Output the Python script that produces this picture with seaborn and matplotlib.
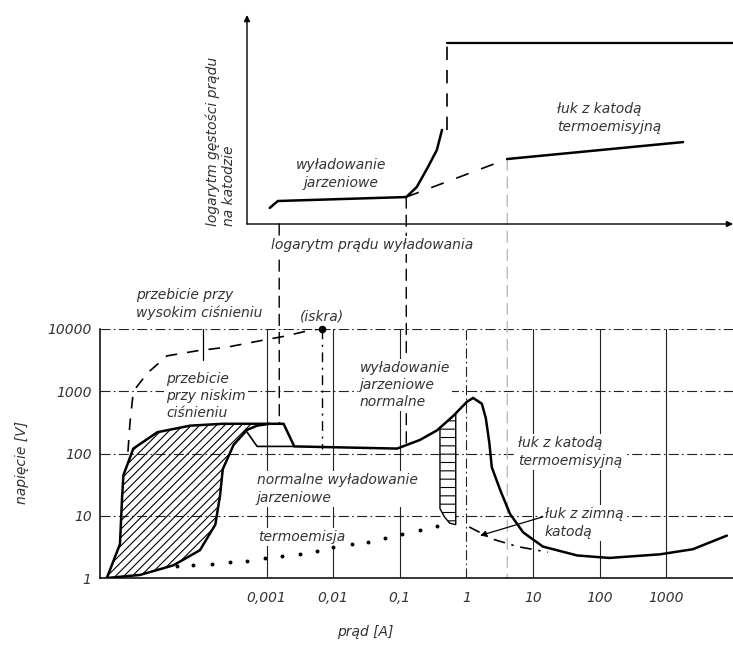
import matplotlib
matplotlib.use("Agg")
import matplotlib.pyplot as plt
import seaborn as sns
from matplotlib.patches import ConnectionPatch

# ---------------- data ----------------
# main chart: voltage [V] against discharge current [A]
v_ticks = [1, 10, 100, 1000, 10000]
v_tick_labels = ["1", "10", "100", "1000", "10000"]
i_ticks = [1e-3, 1e-2, 1e-1, 1, 10, 100, 1000]
i_tick_labels = ["0,001", "0,01", "0,1", "1", "10", "100", "1000"]
i_limits = [3.16e-6, 1e4]
v_limits = [1, 1e4]

# hatched dark-discharge region
dark_left_i = [4.0e-6, 6.3e-6, 6.8e-6, 7.1e-6, 1.0e-5, 2.3e-5, 7.1e-5, 2.2e-4, 1.6e-3]
dark_left_v = [1.0, 3.5, 21, 45, 120, 220, 280, 300, 300]
dark_right_i = [4.0e-6, 1.26e-5, 4.0e-5, 1.0e-4, 1.7e-4, 2.0e-4, 2.2e-4, 3.2e-4, 5.1e-4, 7.2e-4, 1.1e-3]
dark_right_v = [1.0, 1.12, 1.6, 2.8, 7.2, 21, 56, 138, 240, 280, 300]

# glow discharge -> abnormal glow -> arc characteristic
glow_i = [1.6e-3, 1.8e-3, 2.6e-3, 0.091, 0.20, 0.36, 0.63, 1.02, 1.26, 1.7, 1.95, 2.2, 2.4,
          3.2, 4.5, 7.1, 14, 46, 140, 800, 2500, 8100]
glow_v = [300, 300, 130, 120, 165, 235, 400, 680, 780, 630, 370, 150, 60,
          26, 10.7, 5.4, 3.2, 2.3, 2.1, 2.4, 2.9, 4.8]
branch_i = [5.1e-4, 7.2e-4, 2.6e-3]
branch_v = [220, 130, 130]

# hatched glow-to-arc transition strip
strip_i = [0.40, 0.40, 0.47, 0.56, 0.69, 0.69, 0.63]
strip_v = [255, 13, 9.5, 7.6, 7.2, 440, 400]

# thermionic emission (dotted)
thermo_i = [4.6e-5, 7.9e-5, 1.5e-4, 2.8e-4, 5.1e-4, 9.5e-4, 1.7e-3, 3.2e-3, 5.8e-3, 0.010,
            0.019, 0.033, 0.060, 0.107, 0.20, 0.36]
thermo_v = [1.58, 1.62, 1.70, 1.78, 1.86, 2.09, 2.29, 2.45, 2.69, 3.16,
            3.55, 3.72, 4.37, 5.13, 5.89, 6.92]

# cold cathode arc (dash-dot)
cold_i = [1.1, 2.5, 5.8, 16.6]
cold_v = [6.6, 4.2, 3.2, 2.6]

# breakdown (dashed) ending at the spark
breakdown_i = [8.3e-6, 8.9e-6, 1.0e-5, 1.62e-5, 3.2e-5, 9.1e-5, 2.6e-4, 6.3e-4, 1.78e-3, 5.0e-3, 6.8e-3]
breakdown_v = [107, 310, 1000, 1950, 3700, 4470, 5130, 6170, 7590, 9770, 10000]
spark_i = [6.8e-3]
spark_v = [10000]
spark_drop_v = [10000, 120]
hp_leader_i = [1.11e-4, 1.11e-4]
hp_leader_v = [10000, 3160]
cold_arrow_from = (14, 9.6)
cold_arrow_to = (1.6, 4.8)

# top inset: log current density on the cathode (arbitrary units) vs current [A]
top_i_limits = [5.1e-4, 1e4]
top_glow_i = [1.12e-3, 1.48e-3, 0.125, 0.18, 0.265, 0.36, 0.43]
top_glow_y = [0.077, 0.110, 0.129, 0.177, 0.273, 0.354, 0.450]
top_trans_i = [0.125, 4.1]
top_trans_y = [0.129, 0.311]
top_arc_i = [4.1, 1780]
top_arc_y = [0.311, 0.392]
top_jump_i = [0.51, 0.51]
top_jump_y = [0.450, 0.866]
top_ceiling_i = [0.51, 1e4]
top_ceiling_y = [0.866, 0.866]

# guide lines joining the two panels
guide_i = [1.55e-3, 0.125, 4.1]
guide_top_y = [0.0, 0.129, 0.311]
guide_bottom_v = [300, 125, 1]
guide_colors = ["black", "black", "#bbbbbb"]

# ---------------- figure ----------------
sns.set_theme(style="white")
plt.rcParams["font.family"] = ["DejaVu Sans"]
plt.rcParams["font.style"] = "italic"
plt.rcParams["hatch.linewidth"] = 0.8

W, H = 733, 645
fig = plt.figure(figsize=(W / 100, H / 100), dpi=100)
fig.patch.set_facecolor("white")
TXT = "#333333"

ax = fig.add_axes([100 / W, 1 - 578 / H, 633 / W, 249 / H])
axt = fig.add_axes([247 / W, 1 - 224 / H, 486 / W, 209 / H])

# ---- bottom panel ----
ax.set_xscale("log")
ax.set_yscale("log")
ax.set_xlim(*i_limits)
ax.set_ylim(*v_limits)
ax.set_facecolor("white")
dashdot = (0, (9, 3, 1.5, 3))
for v in v_ticks[1:]:
    ax.axhline(v, color="#222222", lw=0.8, ls=dashdot, zorder=1)
for i in i_ticks:
    ax.axvline(i, color="#222222", lw=0.8, ls=dashdot if i == 1 else "-", zorder=1)
for s in ["top", "right"]:
    ax.spines[s].set_visible(False)
for s in ["left", "bottom"]:
    ax.spines[s].set_color("black")
    ax.spines[s].set_linewidth(1.1)
ax.set_xticks(i_ticks, i_tick_labels)
ax.set_yticks(v_ticks, v_tick_labels)
ax.minorticks_off()
ax.tick_params(axis="both", length=0, labelsize=10, labelcolor=TXT)
ax.tick_params(axis="x", pad=9)
ax.tick_params(axis="y", pad=6)
ax.grid(False)

# hatched dark region
ax.fill(dark_left_i + dark_right_i[::-1], dark_left_v + dark_right_v[::-1],
        facecolor="none", edgecolor="black", hatch="////", lw=0, zorder=2)
sns.lineplot(x=dark_left_i, y=dark_left_v, ax=ax, color="black", linewidth=1.8,
             sort=False, estimator=None, zorder=4)
sns.lineplot(x=dark_right_i, y=dark_right_v, ax=ax, color="black", linewidth=1.8,
             sort=False, estimator=None, zorder=4)
# strip
ax.fill(strip_i, strip_v, facecolor="white", edgecolor="black", hatch="--", lw=1.0, zorder=3)
# glow/arc characteristic
sns.lineplot(x=glow_i, y=glow_v, ax=ax, color="black", linewidth=1.8,
             sort=False, estimator=None, zorder=4)
sns.lineplot(x=branch_i, y=branch_v, ax=ax, color="black", linewidth=1.2,
             sort=False, estimator=None, zorder=4)
# thermionic dots
sns.scatterplot(x=thermo_i, y=thermo_v, ax=ax, color="black", s=8, linewidth=0, zorder=4)
# cold cathode arc
sns.lineplot(x=cold_i, y=cold_v, ax=ax, color="black", linewidth=1.2,
             linestyle=(0, (7, 4, 1.5, 4)), sort=False, estimator=None, zorder=4)
# breakdown
sns.lineplot(x=breakdown_i, y=breakdown_v, ax=ax, color="black", linewidth=1.2,
             linestyle=(0, (7, 6)), sort=False, estimator=None, zorder=4)
sns.lineplot(x=[spark_i[0], spark_i[0]], y=spark_drop_v, ax=ax, color="black", linewidth=1.0,
             linestyle=(0, (7, 4, 1.5, 4)), sort=False, estimator=None, zorder=2.5)
sns.lineplot(x=hp_leader_i, y=hp_leader_v, ax=ax, color="black", linewidth=0.9,
             sort=False, estimator=None, zorder=2.5)
sns.scatterplot(x=spark_i, y=spark_v, ax=ax, color="black", s=30, linewidth=0, zorder=5)
for c in ax.collections:
    c.set_clip_on(False)
ax.annotate("", xy=cold_arrow_to, xytext=cold_arrow_from, zorder=5,
            arrowprops=dict(arrowstyle="-|>", color="black", lw=0.9, mutation_scale=9,
                            shrinkA=0, shrinkB=0))

# ---- top panel ----
axt.set_xscale("log")
axt.set_xlim(*top_i_limits)
axt.set_ylim(0, 1)
axt.axis("off")
arrow_kw = dict(arrowstyle="-|>", color="black", lw=1.0, mutation_scale=9, shrinkA=0, shrinkB=0)
axt.annotate("", xy=(0, 1), xytext=(0, 0), xycoords="axes fraction", arrowprops=arrow_kw)
axt.annotate("", xy=(1, 0), xytext=(0, 0), xycoords="axes fraction", arrowprops=arrow_kw)
sns.lineplot(x=top_glow_i, y=top_glow_y, ax=axt, color="black", linewidth=1.8,
             sort=False, estimator=None)
sns.lineplot(x=top_trans_i, y=top_trans_y, ax=axt, color="black", linewidth=1.2,
             linestyle=(0, (8, 8)), sort=False, estimator=None)
sns.lineplot(x=top_arc_i, y=top_arc_y, ax=axt, color="black", linewidth=1.8,
             sort=False, estimator=None)
sns.lineplot(x=top_jump_i, y=top_jump_y, ax=axt, color="black", linewidth=1.2,
             linestyle=(0, (8, 6)), sort=False, estimator=None)
sns.lineplot(x=top_ceiling_i, y=top_ceiling_y, ax=axt, color="black", linewidth=1.6,
             sort=False, estimator=None)
for ln in axt.lines:
    ln.set_clip_on(False)

# guide lines between the panels
for gi, gy, gv, gc in zip(guide_i, guide_top_y, guide_bottom_v, guide_colors):
    cp = ConnectionPatch(xyA=(gi, gy), coordsA=axt.transData, xyB=(gi, gv), coordsB=ax.transData,
                         color=gc, lw=1.0, linestyle=(0, (8, 5)), zorder=2.5)
    cp.set_clip_on(False)
    ax.add_artist(cp)

# ---- texts ----
box = dict(boxstyle="square,pad=0.15", fc="white", ec="none")


def label(px, py, s, axis=ax, ha="left", bbox=box, **kw):
    axis.text(px / W, 1 - py / H, s, transform=fig.transFigure, ha=ha, va="center",
              fontsize=10, color=TXT, linespacing=1.3, bbox=bbox, zorder=3, clip_on=False, **kw)


label(136, 304, "przebicie przy\nwysokim ciśnieniu")
label(300, 317, "(iskra)")
label(166, 396, "przebicie\nprzy niskim\nciśnieniu")
label(360, 385, "wyładowanie\njarzeniowe\nnormalne")
label(257, 489, "normalne wyładowanie\njarzeniowe")
label(258, 537, "termoemisja")
label(518, 452, "łuk z katodą\ntermoemisyjną")
label(545, 523, "łuk z zimną\nkatodą")
label(365, 632, "prąd [A]", ha="center", bbox=None)
label(22, 462, "napięcie [V]", ha="center", bbox=None, rotation=90)

fig.text(372 / W, 1 - 245 / H, "logarytm prądu wyładowania", ha="center", va="center",
         fontsize=10, color=TXT, bbox=box)
fig.text(341 / W, 1 - 174 / H, "wyładowanie\njarzeniowe", ha="center", va="center",
         fontsize=10, color=TXT, linespacing=1.3, multialignment="center")
fig.text(557 / W, 1 - 118 / H, "łuk z katodą\ntermoemisyjną", ha="left", va="center",
         fontsize=10, color=TXT, linespacing=1.3)
fig.text(221 / W, 1 - 226 / H, "logarytm gęstości prądu\nna katodzie", rotation=90,
         rotation_mode="anchor", ha="left", va="center", multialignment="left",
         fontsize=10, color=TXT, linespacing=1.2)

fig.savefig("out.png", dpi=100, facecolor="white")
